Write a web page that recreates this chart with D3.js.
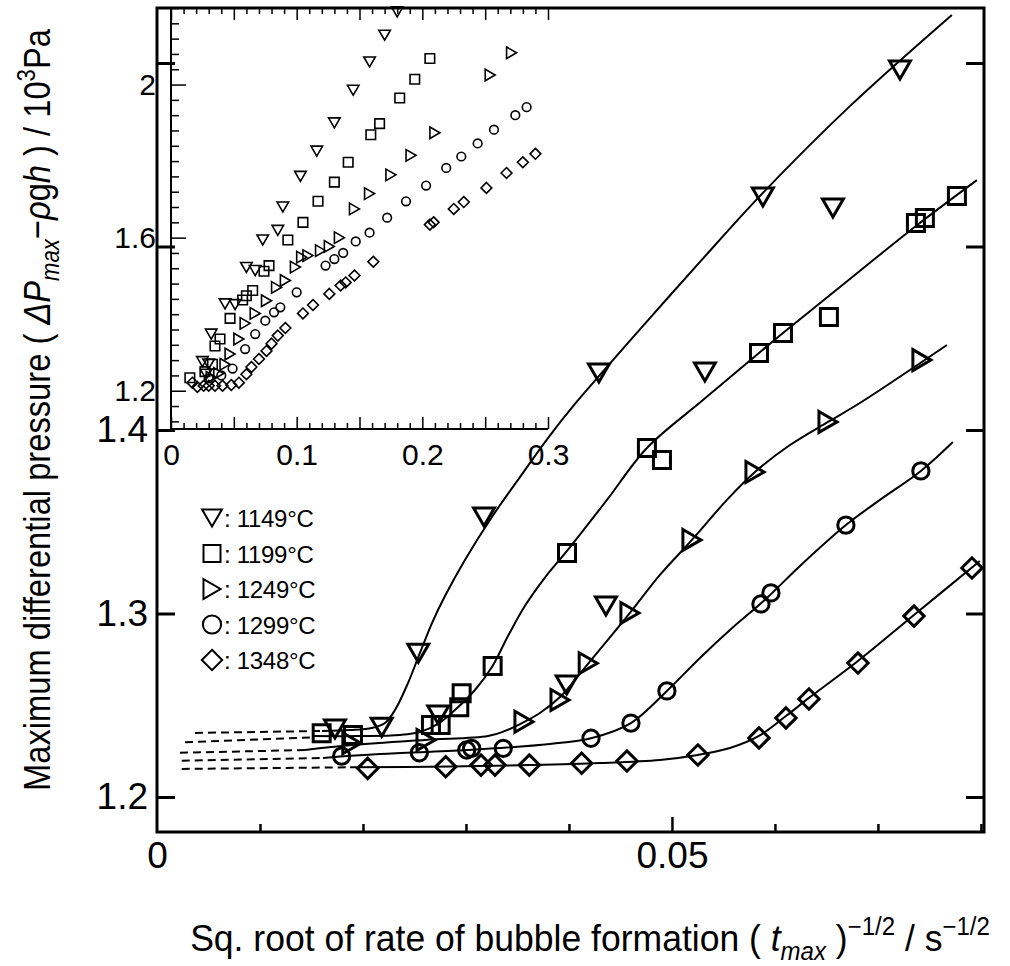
<!DOCTYPE html>
<html><head><meta charset="utf-8">
<script src="https://cdn.jsdelivr.net/npm/d3@7"></script>
<style>
body{margin:0;background:#fff}
svg{display:block}
text{font-family:Arial,"Liberation Sans",sans-serif;fill:#000}
</style>
</head><body>
<svg id="c" width="1010" height="966"></svg>
<script>
// ---------------- DATA ----------------
const seriesNames = ["1149", "1199", "1249", "1299", "1348"];
const seriesShapes = ["triDown", "square", "triRight", "circle", "diamond"];

// main plot: measured points [sqrt rate, pressure /10^3 Pa]
const main1149 = [[0.01728,1.2371],[0.02182,1.2380],[0.02537,1.2783],[0.02731,1.2447],[0.03175,1.3526],[0.03978,1.2610],[0.04359,1.3041],[0.04291,1.4311],[0.05320,1.4316],[0.05883,1.5270],[0.06563,1.5210],[0.07214,1.5962]];
const main1199 = [[0.01599,1.2347],[0.01903,1.2338],[0.02660,1.2392],[0.02754,1.2392],[0.02935,1.2489],[0.02958,1.2565],[0.03259,1.2714],[0.03981,1.3330],[0.04757,1.3902],[0.04903,1.3837],[0.05845,1.4420],[0.06078,1.4529],[0.06524,1.4616],[0.07369,1.5128],[0.07456,1.5155],[0.07767,1.5275]];
const main1249 = [[0.01892,1.2293],[0.02612,1.2311],[0.03563,1.2410],[0.03913,1.2529],[0.04187,1.2729],[0.04592,1.3003],[0.05194,1.3401],[0.05806,1.3771],[0.06515,1.4044],[0.07427,1.4381]];
const main1299 = [[0.01793,1.2223],[0.02547,1.2241],[0.03007,1.2256],[0.03055,1.2265],[0.03362,1.2265],[0.04214,1.2320],[0.04602,1.2403],[0.04951,1.2578],[0.05864,1.3052],[0.05961,1.3112],[0.06689,1.3482],[0.07417,1.3777]];
const main1348 = [[0.02046,1.2156],[0.02803,1.2165],[0.03146,1.2174],[0.03282,1.2174],[0.03615,1.2174],[0.04123,1.2184],[0.04563,1.2196],[0.05252,1.2229],[0.05845,1.2322],[0.06107,1.2431],[0.06330,1.2534],[0.06806,1.2730],[0.07350,1.2986],[0.07913,1.3248]];

// fitted curves (solid)
const fit1149 = [[0.01602,1.2360],[0.01874,1.2365],[0.02087,1.2376],[0.02214,1.2403],[0.02311,1.2474],[0.02437,1.2621],[0.02553,1.2785],[0.02670,1.2948],[0.02796,1.3095],[0.02990,1.3292],[0.03252,1.3526],[0.03524,1.3743],[0.03796,1.3956],[0.04058,1.4142],[0.04301,1.4300],[0.04786,1.4610],[0.05272,1.4916],[0.05883,1.5292],[0.06728,1.5765],[0.07718,1.6262]];
const fit1199 = [[0.01505,1.2332],[0.01971,1.2332],[0.02359,1.2338],[0.02553,1.2354],[0.02728,1.2398],[0.02893,1.2474],[0.03087,1.2583],[0.03252,1.2708],[0.03408,1.2877],[0.03573,1.3042],[0.03767,1.3196],[0.03981,1.3341],[0.04369,1.3619],[0.04757,1.3902],[0.05301,1.4163],[0.05845,1.4420],[0.06078,1.4529],[0.06728,1.4823],[0.07369,1.5112],[0.07961,1.5362]];
const fit1249 = [[0.01437,1.2256],[0.01893,1.2283],[0.02602,1.2311],[0.03214,1.2332],[0.03379,1.2360],[0.03544,1.2403],[0.03718,1.2458],[0.03913,1.2545],[0.04175,1.2719],[0.04592,1.3003],[0.04883,1.3210],[0.05194,1.3401],[0.05534,1.3619],[0.05806,1.3771],[0.06146,1.3918],[0.06515,1.4044],[0.06825,1.4147],[0.07670,1.4463]];
const fit1299 = [[0.01612,1.2213],[0.02165,1.2234],[0.03010,1.2256],[0.03816,1.2289],[0.04223,1.2322],[0.04602,1.2403],[0.04951,1.2578],[0.05272,1.2758],[0.05563,1.2910],[0.05913,1.3080],[0.06243,1.3259],[0.06689,1.3482],[0.07019,1.3619],[0.07417,1.3777],[0.07728,1.3935]];
const fit1348 = [[0.01874,1.2162],[0.02845,1.2166],[0.03621,1.2174],[0.04301,1.2185],[0.04883,1.2202],[0.05252,1.2229],[0.05563,1.2267],[0.05845,1.2333],[0.06107,1.2441],[0.06330,1.2540],[0.06806,1.2741],[0.07350,1.2992],[0.07990,1.3286]];

// extrapolated parts (dashed)
const dash1149 = [[0.00369,1.2349],[0.01602,1.2360]];
const dash1199 = [[0.00272,1.2298],[0.01505,1.2325]];
const dash1249 = [[0.00223,1.2241],[0.01437,1.2256]];
const dash1299 = [[0.00240,1.2198],[0.01612,1.2213]];
const dash1348 = [[0.00240,1.2153],[0.01874,1.2162]];

// inset points
const inset1149 = [[0.180,2.190],[0.170,2.129],[0.158,2.059],[0.145,1.985],[0.130,1.900],[0.116,1.826],[0.103,1.760],[0.089,1.680],[0.085,1.619],[0.073,1.594],[0.060,1.522],[0.067,1.514],[0.043,1.427],[0.051,1.425],[0.032,1.348],[0.025,1.276],[0.030,1.270],[0.028,1.243]];
const inset1199 = [[0.206,2.068],[0.194,2.014],[0.182,1.965],[0.166,1.898],[0.159,1.869],[0.141,1.797],[0.130,1.745],[0.117,1.695],[0.105,1.640],[0.093,1.594],[0.078,1.527],[0.074,1.512],[0.065,1.462],[0.060,1.448],[0.057,1.437],[0.047,1.389],[0.039,1.335],[0.035,1.317],[0.033,1.269],[0.027,1.250],[0.015,1.234]];
const inset1249 = [[0.271,2.083],[0.254,2.025],[0.210,1.874],[0.191,1.815],[0.175,1.764],[0.158,1.715],[0.146,1.675],[0.134,1.600],[0.126,1.577],[0.119,1.566],[0.109,1.553],[0.104,1.549],[0.099,1.523],[0.091,1.488],[0.084,1.470],[0.076,1.435],[0.067,1.402],[0.059,1.376],[0.054,1.335],[0.047,1.296],[0.043,1.269],[0.038,1.245],[0.032,1.235]];
const inset1299 = [[0.283,1.941],[0.274,1.920],[0.257,1.882],[0.244,1.846],[0.231,1.812],[0.219,1.782],[0.203,1.736],[0.187,1.695],[0.172,1.652],[0.158,1.613],[0.147,1.590],[0.137,1.560],[0.130,1.544],[0.123,1.527],[0.100,1.457],[0.087,1.418],[0.082,1.405],[0.075,1.383],[0.067,1.348],[0.059,1.309],[0.049,1.258],[0.040,1.240],[0.030,1.232]];
const inset1348 = [[0.290,1.819],[0.280,1.797],[0.267,1.769],[0.251,1.730],[0.233,1.693],[0.225,1.675],[0.209,1.640],[0.206,1.634],[0.161,1.537],[0.146,1.501],[0.139,1.483],[0.135,1.475],[0.126,1.453],[0.113,1.424],[0.105,1.402],[0.091,1.364],[0.085,1.344],[0.080,1.323],[0.076,1.304],[0.070,1.283],[0.064,1.262],[0.060,1.243],[0.054,1.221],[0.048,1.215],[0.041,1.213],[0.035,1.213],[0.030,1.213],[0.026,1.213],[0.021,1.210],[0.017,1.221]];

// ticks
const mainXMinor = [0.01,0.02,0.03,0.04,0.06,0.07,0.08];
const mainXMajor = [0.05];
const mainXLabels = [0, 0.05];
const mainXLabelText = ["0", "0.05"];
const mainYTicks = [1.2,1.3,1.4,1.5,1.6];
const mainYLabels = [1.2,1.3,1.4];
const insetXMajor = [0,0.05,0.1,0.15,0.2,0.25,0.3];
const insetXLabels = [0,0.1,0.2,0.3];
const insetXLabelText = ["0","0.1","0.2","0.3"];
const insetYMajor = [1.2,1.6,2.0];
const insetYLabels = [1.2,1.6,2.0];
const insetYLabelText = ["1.2","1.6","2"];

// ---------------- DRAW ----------------
const svg = d3.select("#c");
const FL = 157, FR = 984, FT = 8, FB = 832;
const x = d3.scaleLinear().domain([0, 0.0803]).range([FL, FR]);
const y = d3.scaleLinear().domain([1.2, 1.6]).range([797, 63]);
const ix = d3.scaleLinear().domain([0, 0.3]).range([171, 548]);
const iy = d3.scaleLinear().domain([1.1, 2.2]).range([429, FT]);

function styleAxis(g, w) {
  g.selectAll(".domain").remove();
  g.selectAll("line").attr("stroke", "#000").attr("stroke-width", w);
}
function styleLabels(g, fs) {
  g.selectAll(".domain").remove();
  g.selectAll("text").attr("font-size", fs).attr("font-family", "Arial, Liberation Sans").attr("fill", "#000");
}

// ---- main frame
svg.append("rect").attr("x", FL).attr("y", FT).attr("width", FR-FL).attr("height", FB-FT)
  .attr("fill", "none").attr("stroke", "#000").attr("stroke-width", 3);

// main x ticks
svg.append("g").attr("transform", `translate(0,${FB})`)
  .call(d3.axisBottom(x).tickValues(mainXMinor).tickSize(-8).tickFormat(""))
  .call(g => styleAxis(g, 2.5));
svg.append("g").attr("transform", `translate(0,${FB})`)
  .call(d3.axisBottom(x).tickValues(mainXMajor).tickSize(-15).tickFormat(""))
  .call(g => styleAxis(g, 2.5));
svg.append("g").attr("transform", `translate(0,${FB})`)
  .call(d3.axisBottom(x).tickValues(mainXLabels).tickSize(0).tickPadding(10)
    .tickFormat((d,i) => mainXLabelText[i]))
  .call(g => styleLabels(g, 37));

// main y ticks left and right
svg.append("g").attr("transform", `translate(${FL},0)`)
  .call(d3.axisLeft(y).tickValues(mainYTicks).tickSize(-18).tickFormat(""))
  .call(g => styleAxis(g, 3));
svg.append("g").attr("transform", `translate(${FR},0)`)
  .call(d3.axisRight(y).tickValues(mainYTicks).tickSize(-18).tickFormat(""))
  .call(g => styleAxis(g, 3));
svg.append("g").attr("transform", `translate(${FL},0)`)
  .call(d3.axisLeft(y).tickValues(mainYLabels).tickSize(0).tickPadding(9).tickFormat(d3.format(".1f")))
  .call(g => styleLabels(g, 37));

// ---- inset axes
const insetXMinor = d3.range(0, 31).map(k => k/100).filter(v => Math.round(v*100) % 5 !== 0);
const insetYMinor = d3.range(0, 28).map(k => +(1.12 + k*0.04).toFixed(2)).filter(v => !insetYMajor.includes(v));

svg.append("line").attr("x1", ix(0)).attr("x2", ix(0.3)).attr("y1", iy(1.1)).attr("y2", iy(1.1))
  .attr("stroke", "#000").attr("stroke-width", 2);
svg.append("line").attr("x1", ix(0)).attr("x2", ix(0)).attr("y1", iy(1.1)).attr("y2", iy(2.2))
  .attr("stroke", "#000").attr("stroke-width", 2);

svg.append("g").attr("transform", `translate(0,${iy(1.1)})`)
  .call(d3.axisBottom(ix).tickValues(insetXMinor).tickSize(-6).tickFormat(""))
  .call(g => styleAxis(g, 1.5));
svg.append("g").attr("transform", `translate(0,${iy(1.1)})`)
  .call(d3.axisBottom(ix).tickValues(insetXMajor).tickSize(-12).tickFormat(""))
  .call(g => styleAxis(g, 1.5));
svg.append("g").attr("transform", `translate(0,${FT})`)
  .call(d3.axisTop(ix).tickValues(insetXMinor).tickSize(-6).tickFormat(""))
  .call(g => styleAxis(g, 1.5));
svg.append("g").attr("transform", `translate(0,${FT})`)
  .call(d3.axisTop(ix).tickValues(insetXMajor).tickSize(-12).tickFormat(""))
  .call(g => styleAxis(g, 1.5));
svg.append("g").attr("transform", `translate(0,${iy(1.1)})`)
  .call(d3.axisBottom(ix).tickValues(insetXLabels).tickSize(0).tickPadding(15)
    .tickFormat((d,i) => insetXLabelText[i]))
  .call(g => styleLabels(g, 30));

svg.append("g").attr("transform", `translate(${ix(0)},0)`)
  .call(d3.axisLeft(iy).tickValues(insetYMinor).tickSize(-8).tickFormat(""))
  .call(g => styleAxis(g, 1.5));
svg.append("g").attr("transform", `translate(${ix(0)},0)`)
  .call(d3.axisLeft(iy).tickValues(insetYMajor).tickSize(-15).tickFormat(""))
  .call(g => styleAxis(g, 1.5));
svg.append("g").attr("transform", `translate(${ix(0)},0)`)
  .call(d3.axisLeft(iy).tickValues(insetYLabels).tickSize(0).tickPadding(15)
    .tickFormat((d,i) => insetYLabelText[i]))
  .call(g => styleLabels(g, 30));

// ---- markers
function shapePath(shape, s) {
  const h = s/2;
  if (shape === "triDown") { const w = s*1.1/2, hh = s*0.95/2; return `M${-w},${-hh}L${w},${-hh}L0,${hh}Z`; }
  if (shape === "triRight") { const w = s*0.95/2, hh = s*1.1/2; return `M${-w},${-hh}L${w},0L${-w},${hh}Z`; }
  if (shape === "square") return `M${-h},${-h}L${h},${-h}L${h},${h}L${-h},${h}Z`;
  if (shape === "diamond") { const d = s*0.6; return `M0,${-d}L${d},0L0,${d}L${-d},0Z`; }
  if (shape === "circle") { const r = s*0.48; return `M${r},0A${r},${r} 0 1,1 ${-r},0A${r},${r} 0 1,1 ${r},0Z`; }
}

const mainSets = [main1149, main1199, main1249, main1299, main1348];
const fitSets = [fit1149, fit1199, fit1249, fit1299, fit1348];
const dashSets = [dash1149, dash1199, dash1249, dash1299, dash1348];
const insetSets = [inset1149, inset1199, inset1249, inset1299, inset1348];

const lineMain = d3.line().x(d => x(d[0])).y(d => y(d[1])).curve(d3.curveCatmullRom.alpha(0.5));
const lineStraight = d3.line().x(d => x(d[0])).y(d => y(d[1]));

dashSets.forEach(ds => {
  svg.append("path").attr("d", lineStraight(ds)).attr("fill", "none")
    .attr("stroke", "#000").attr("stroke-width", 2).attr("stroke-dasharray", "8,5");
});
fitSets.forEach(fs => {
  svg.append("path").attr("d", lineMain(fs)).attr("fill", "none")
    .attr("stroke", "#000").attr("stroke-width", 2);
});

const mainSize = {triDown: 19, square: 17, triRight: 19, circle: 17, diamond: 17};
mainSets.forEach((pts, i) => {
  const shp = seriesShapes[i];
  svg.append("g").selectAll("path").data(pts).join("path")
    .attr("transform", d => `translate(${x(d[0])},${y(d[1])})`)
    .attr("d", shapePath(shp, mainSize[shp]))
    .attr("fill", "none").attr("stroke", "#000").attr("stroke-width", 3);
});

const insetSize = {triDown: 10.5, square: 9.5, triRight: 10.5, circle: 9, diamond: 9};
insetSets.forEach((pts, i) => {
  const shp = seriesShapes[i];
  svg.append("g").selectAll("path").data(pts).join("path")
    .attr("transform", d => `translate(${ix(d[0])},${iy(d[1])})`)
    .attr("d", shapePath(shp, insetSize[shp]))
    .attr("fill", "none").attr("stroke", "#000").attr("stroke-width", 1.6);
});

// ---- legend
const legSize = {triDown: 18, square: 17, triRight: 18, circle: 19, diamond: 17};
seriesNames.forEach((nm, i) => {
  const ly = 518 + i*35.5;
  const shp = seriesShapes[i];
  svg.append("path").attr("transform", `translate(212,${ly})`)
    .attr("d", shapePath(shp, legSize[shp])).attr("fill", "none")
    .attr("stroke", "#000").attr("stroke-width", 2);
  svg.append("text").attr("x", 224).attr("y", ly + 9).attr("font-size", 24)
    .attr("letter-spacing", -0.3)
    .text(": " + nm + "\u00b0C");
});

// ---- axis titles
function fitText(textSel, target) {
  const w = textSel.node().getComputedTextLength();
  textSel.attr("transform", `scale(${target / w},1)`);
}

// x title
{
  const g = svg.append("g").attr("transform", "translate(590,951)");
  const t = g.append("text").attr("text-anchor", "middle").attr("font-size", 37);
  t.append("tspan").text("Sq. root of rate of bubble formation ( ");
  t.append("tspan").attr("font-style", "italic").text("t");
  t.append("tspan").attr("font-style", "italic").attr("font-size", 25).attr("dy", 9).text("max");
  t.append("tspan").attr("dy", -9).text(" )");
  t.append("tspan").attr("font-size", 25).attr("dy", -16).text("\u22121/2");
  t.append("tspan").attr("dy", 16).text(" / s");
  t.append("tspan").attr("font-size", 25).attr("dy", -16).text("\u22121/2");
  fitText(t, 800);
}

// y title
{
  const g = svg.append("g").attr("transform", "translate(50,410) rotate(-90)");
  const t = g.append("text").attr("text-anchor", "middle").attr("font-size", 37);
  t.append("tspan").text("Maximum differential pressure ( ");
  t.append("tspan").attr("font-style", "italic").text("\u0394P");
  t.append("tspan").attr("font-style", "italic").attr("font-size", 25).attr("dy", 9).text("max");
  t.append("tspan").attr("dy", -9).text("\u2212");
  t.append("tspan").attr("font-style", "italic").text("\u03c1");
  t.append("tspan").text("g");
  t.append("tspan").attr("font-style", "italic").text("h");
  t.append("tspan").text(" ) / 10");
  t.append("tspan").attr("font-size", 25).attr("dy", -15).text("3");
  t.append("tspan").attr("dy", 15).text("Pa");
  fitText(t, 762);
}
</script>
</body></html>
